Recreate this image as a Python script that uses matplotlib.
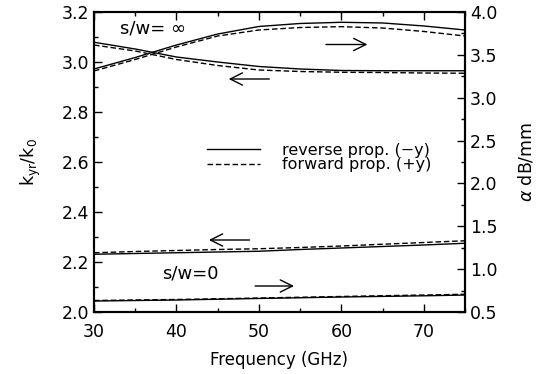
import numpy as np
import matplotlib
matplotlib.use('Agg')
import matplotlib.pyplot as plt

plt.rcParams['font.family'] = ['DejaVu Sans']
plt.rcParams['mathtext.fontset'] = 'dejavusans'

freq = [30, 35, 40, 45, 50, 55, 60, 65, 70, 75]

# s/w = infinity
alpha_inf_rev = [3.335, 3.469, 3.615, 3.743, 3.831, 3.866, 3.880, 3.872, 3.837, 3.790]
alpha_inf_fwd = [3.312, 3.446, 3.592, 3.720, 3.790, 3.819, 3.829, 3.813, 3.773, 3.720]
kyr_inf_rev = [3.079, 3.052, 3.020, 3.000, 2.982, 2.972, 2.966, 2.965, 2.965, 2.965]
kyr_inf_fwd = [3.068, 3.044, 3.010, 2.986, 2.968, 2.962, 2.959, 2.958, 2.956, 2.955]

# s/w = 0
kyr_0_rev = [2.231, 2.234, 2.237, 2.240, 2.243, 2.250, 2.256, 2.262, 2.268, 2.275]
kyr_0_fwd = [2.237, 2.242, 2.246, 2.250, 2.253, 2.258, 2.264, 2.271, 2.278, 2.285]
alpha_0_rev = [0.628, 0.634, 0.640, 0.649, 0.658, 0.666, 0.675, 0.682, 0.689, 0.698]
alpha_0_fwd = [0.634, 0.640, 0.646, 0.654, 0.663, 0.672, 0.681, 0.690, 0.698, 0.707]

fig = plt.figure(figsize=(5.41, 3.74), dpi=100)
ax = fig.add_subplot(111)
fig.subplots_adjust(left=94/541, right=465/541, top=1-12/374, bottom=1-312/374)
ax2 = ax.twinx()

dash = (0, (4, 2))
ax.plot(freq, kyr_inf_rev, color='k', lw=1.0, label='reverse prop. (\u2212y)')
ax.plot(freq, kyr_inf_fwd, color='k', lw=1.0, linestyle=dash, label='forward prop. (+y)')
ax.plot(freq, kyr_0_rev, color='k', lw=1.0)
ax.plot(freq, kyr_0_fwd, color='k', lw=1.0, linestyle=dash)
ax2.plot(freq, alpha_inf_rev, color='k', lw=1.0)
ax2.plot(freq, alpha_inf_fwd, color='k', lw=1.0, linestyle=dash)
ax2.plot(freq, alpha_0_rev, color='k', lw=1.0)
ax2.plot(freq, alpha_0_fwd, color='k', lw=1.0, linestyle=dash)

ax.set_xlim(30, 75)
ax.set_ylim(2.0, 3.2)
ax2.set_ylim(0.5, 4.0)
ax.set_xticks(np.arange(30, 71, 10))
ax.set_xticks(np.arange(35, 76, 10), minor=True)
ax.set_yticks(np.arange(2.0, 3.21, 0.2))
ax.set_yticks(np.arange(2.1, 3.2, 0.2), minor=True)
ax.set_yticklabels(['2.0', '2.2', '2.4', '2.6', '2.8', '3.0', '3.2'])
ax2.set_yticks(np.arange(0.5, 4.01, 0.5))
ax2.set_yticks(np.arange(0.75, 4.0, 0.5), minor=True)
ax2.set_yticklabels(['0.5', '1.0', '1.5', '2.0', '2.5', '3.0', '3.5', '4.0'])

for a in (ax, ax2):
    a.tick_params(which='both', direction='in', labelsize=12.5, top=True)
    a.tick_params(which='major', length=6, width=1)
    a.tick_params(which='minor', length=3, width=1)
    for s in a.spines.values():
        s.set_linewidth(1.5)
ax.tick_params(axis='x', pad=8)

ax.set_xlabel('Frequency (GHz)', fontsize=12, labelpad=7)
ax.set_ylabel(r'$\mathregular{k_{yr}/k_0}$', fontsize=12.5, labelpad=13)
ax2.set_ylabel(r'$\alpha$ dB/mm', fontsize=12.5, labelpad=14)

ax.text(33.2, 3.136, 's/w= \u221e', fontsize=13, va='center', ha='left')
ax.text(38.2, 2.152, 's/w=0', fontsize=13, va='center', ha='left')

arrow = dict(arrowstyle='->', color='k', lw=1.0, mutation_scale=22)
ax.annotate('', xy=(63.5, 3.070), xytext=(57.8, 3.070), arrowprops=arrow)
ax.annotate('', xy=(46.0, 2.932), xytext=(51.6, 2.932), arrowprops=arrow)
ax.annotate('', xy=(43.6, 2.288), xytext=(49.2, 2.288), arrowprops=arrow)
ax.annotate('', xy=(54.6, 2.104), xytext=(49.2, 2.104), arrowprops=arrow)

ax.legend(loc='center left', bbox_to_anchor=(0.305, 0.515), frameon=False,
          fontsize=11.5, handlelength=3.3, handletextpad=1.4, labelspacing=0.0,
          borderpad=0, borderaxespad=0)

fig.savefig('out.png', dpi=100)
